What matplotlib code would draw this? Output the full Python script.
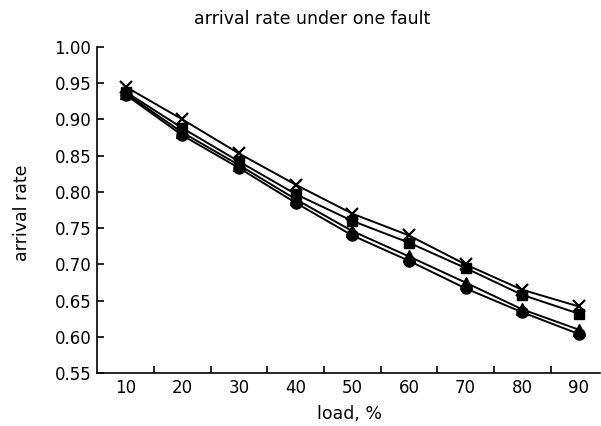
import numpy as np
from matplotlib import pyplot as plt
from matplotlib.ticker import FixedLocator

load = [10, 20, 30, 40, 50, 60, 70, 80, 90]

rate_cross = [0.945, 0.900, 0.853, 0.810, 0.770, 0.740, 0.700, 0.665, 0.642]
rate_square = [0.938, 0.888, 0.842, 0.797, 0.760, 0.730, 0.695, 0.658, 0.632]
rate_triangle = [0.936, 0.882, 0.837, 0.790, 0.746, 0.711, 0.675, 0.638, 0.610]
rate_circle = [0.934, 0.878, 0.833, 0.785, 0.740, 0.705, 0.667, 0.634, 0.604]

y_ticks = [0.55, 0.60, 0.65, 0.70, 0.75, 0.80, 0.85, 0.90, 0.95, 1.00]


def main() -> None:
    plt.rcParams["font.family"] = ["DejaVu Sans"]
    fig = plt.figure(figsize=(6.01, 4.26), dpi=100)
    ax = fig.add_axes([0.161, 0.124, 0.837, 0.766])

    ax.plot(load, rate_cross, color="black", lw=1.4, marker="x", ms=8, mew=1.6)
    ax.plot(load, rate_square, color="black", lw=1.4, marker="s", ms=7)
    ax.plot(load, rate_triangle, color="black", lw=1.4, marker="^", ms=8)
    ax.plot(load, rate_circle, color="black", lw=1.4, marker="o", ms=8)

    ax.set_xlim(4.9, 93.7)
    ax.set_ylim(0.55, 1.00)

    ax.set_xticks(load)
    ax.set_xticklabels([str(v) for v in load])
    ax.xaxis.set_minor_locator(FixedLocator([15, 25, 35, 45, 55, 65, 75, 85]))
    ax.tick_params(axis="x", which="major", length=0, pad=4, labelsize=12)
    ax.tick_params(axis="x", which="minor", direction="in", length=5, width=1.2)

    ax.set_yticks(y_ticks)
    ax.set_yticklabels([f"{v:.2f}" for v in y_ticks])
    ax.tick_params(axis="y", direction="in", length=5, width=1.2, pad=4, labelsize=12)

    for side in ("top", "right"):
        ax.spines[side].set_visible(False)
    for side in ("left", "bottom"):
        ax.spines[side].set_linewidth(1.2)

    fig.text(0.519, 0.955, "arrival rate under one fault", ha="center", va="center", fontsize=12.5)
    fig.text(0.582, 0.028, "load, %", ha="center", va="center", fontsize=12.5)
    fig.text(0.037, 0.50, "arrival rate", ha="center", va="center", rotation=90, fontsize=12.5)

    fig.savefig("out.png", dpi=100)


if __name__ == "__main__":
    main()
